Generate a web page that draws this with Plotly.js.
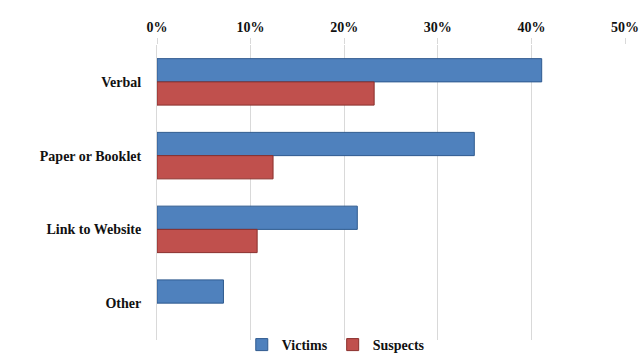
<!DOCTYPE html>
<html>
<head>
<meta charset="utf-8">
<script src="https://cdn.plot.ly/plotly-3.0.1.min.js"></script>
<style>html,body{margin:0;padding:0;background:#fff;}#chart{width:642px;height:361px;}</style>
</head>
<body>
<div id="chart"></div>
<script>
var categories = ["Verbal", "Paper or Booklet", "Link to Website", "Other"];
var victims = [41.1, 33.9, 21.4, 7.1];
var suspects = [23.2, 12.4, 10.7, null];
var tickVals = [0, 10, 20, 30, 40, 50];
var tickText = ["0%", "10%", "20%", "30%", "40%", "50%"];

var fam = "Liberation Serif, DejaVu Serif, serif";
var font = {family: fam, size: 14, color: "#111", weight: "bold"};

var traces = [
  {type: "bar", orientation: "h", name: "Victims", y: categories, x: victims,
   marker: {color: "#4F81BD", line: {color: "#2f5a8f", width: 1}}},
  {type: "bar", orientation: "h", name: "Suspects", y: categories, x: suspects,
   marker: {color: "#C0504D", line: {color: "#8a2f2c", width: 1}}}
];

var layout = {
  width: 642, height: 361,
  margin: {l: 157, r: 17, t: 45, b: 21, autoexpand: false},
  paper_bgcolor: "#fff", plot_bgcolor: "#fff",
  barmode: "group", bargap: 0.37, bargroupgap: 0,
  font: font,
  showlegend: true,
  legend: {orientation: "h", x: 0.523, xref: "container", xanchor: "center",
           y: -0.022, yref: "container", yanchor: "bottom",
           font: {family: fam, size: 14, color: "#111", weight: "bold"}, traceorder: "normal",
           itemwidth: 30, tracegroupgap: 0, bgcolor: "rgba(0,0,0,0)"},
  xaxis: {side: "top", range: [0, 50], tickvals: tickVals, ticktext: tickText,
          showgrid: true, gridcolor: "#d9d9d9", gridwidth: 1, zeroline: false,
          showline: false, ticks: "outside", ticklen: 6, tickcolor: "#d9d9d9",
          tickfont: {family: fam, size: 14, color: "#111", weight: "bold"}, fixedrange: true},
  yaxis: {autorange: "reversed", showgrid: false, zeroline: false, showline: true,
          linecolor: "#d9d9d9", linewidth: 1, ticks: "", ticklabelstandoff: 12,
          tickfont: {family: fam, size: 14, color: "#111", weight: "bold"}}
};

Plotly.newPlot("chart", traces, layout, {displayModeBar: false, staticPlot: true});
</script>
</body>
</html>
